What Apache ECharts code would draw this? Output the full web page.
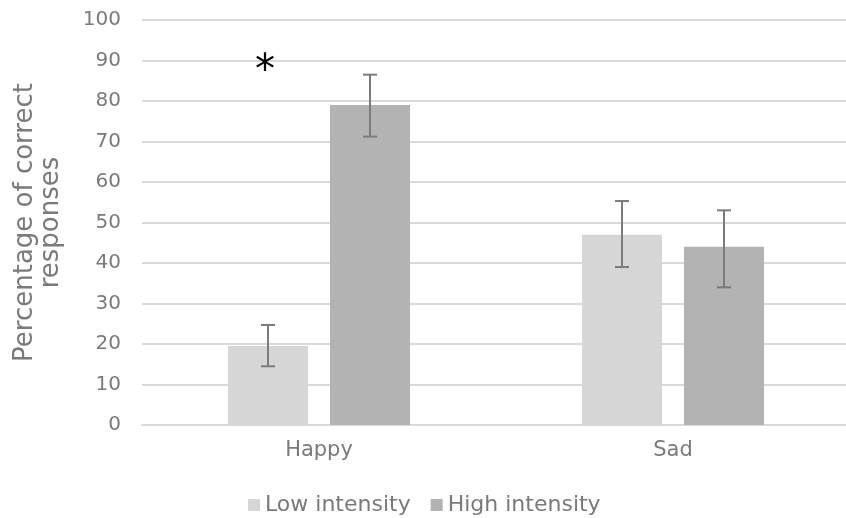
<!DOCTYPE html>
<html><head><meta charset="utf-8">
<script src="https://cdn.jsdelivr.net/npm/echarts@6/dist/echarts.min.js"></script>
<style>html,body{margin:0;padding:0;background:#fff}#c{width:846px;height:518px}</style>
</head><body><div id="c"></div>
<script>
const categories = ['Happy', 'Sad'];
const seriesNames = ['Low intensity', 'High intensity'];
const lowValues = [19.5, 47];
const highValues = [79, 44];
const lowErrLower = [14.5, 39];
const lowErrUpper = [24.7, 55.3];
const highErrLower = [71.2, 34];
const highErrUpper = [86.5, 53];
const lowAnnotations = ['*', ''];
const annotationLevel = 87;
const yTicks = [0, 10, 20, 30, 40, 50, 60, 70, 80, 90, 100];

const colors = ['#d6d6d6', '#b3b3b3'];
const barWidthPct = 0.226;
const barGapPct = 0.275;
const font = 'DejaVu Sans';
const textColor = '#7a7a7a';

function errSeries(idx, lows, highs, notes) {
  return {
    type: 'custom',
    name: seriesNames[idx] + ' err',
    z: 5,
    data: categories.map((c, i) => [i, lows[i], highs[i]]),
    renderItem: function (params, api) {
      const i = api.value(0);
      const band = api.size([1, 0])[0];
      const bw = band * barWidthPct;
      const gap = bw * barGapPct;
      const total = 2 * bw + gap;
      const off = -total / 2 + bw / 2 + idx * (bw + gap);
      const pLo = api.coord([i, api.value(1)]);
      const pHi = api.coord([i, api.value(2)]);
      const x = pLo[0] + off;
      const cap = 7;
      const st = { stroke: '#7b7b7b', lineWidth: 2 };
      const children = [
        { type: 'line', shape: { x1: x, y1: pLo[1], x2: x, y2: pHi[1] }, style: st },
        { type: 'line', shape: { x1: x - cap, y1: pLo[1], x2: x + cap, y2: pLo[1] }, style: st },
        { type: 'line', shape: { x1: x - cap, y1: pHi[1], x2: x + cap, y2: pHi[1] }, style: st }
      ];
      if (notes && notes[i]) {
        const pN = api.coord([i, annotationLevel]);
        children.push({ type: 'text', style: { text: notes[i], x: x - 3, y: pN[1], align: 'center', verticalAlign: 'middle', font: '40px ' + font, fill: '#000' } });
      }
      return { type: 'group', children: children };
    }
  };
}

const chart = echarts.init(document.getElementById('c'), null, { renderer: 'canvas' });
chart.setOption({
  backgroundColor: '#fff',
  animation: false,
  textStyle: { fontFamily: font },
  grid: { left: 142, right: -4, top: 20, bottom: 93, containLabel: false, outerBoundsMode: 'none' },
  legend: {
    data: seriesNames,
    bottom: -3,
    left: 243,
    icon: 'rect',
    itemWidth: 12,
    itemHeight: 12,
    itemGap: 20,
    textStyle: { fontSize: 22, color: textColor, fontFamily: font }
  },
  xAxis: {
    type: 'category',
    data: categories,
    axisTick: { show: false },
    axisLine: { lineStyle: { color: '#d9d9d9', width: 2 } },
    axisLabel: { fontSize: 21, color: textColor, margin: 15 }
  },
  yAxis: {
    type: 'value',
    min: yTicks[0],
    max: yTicks[yTicks.length - 1],
    interval: 10,
    name: 'Percentage of correct\nresponses',
    nameLocation: 'middle',
    nameGap: 78,
    nameTextStyle: { fontSize: 26, color: textColor, lineHeight: 26, fontFamily: font },
    axisLine: { show: false },
    axisTick: { show: false },
    axisLabel: { fontSize: 20, color: textColor, margin: 21 },
    splitLine: { lineStyle: { color: '#d9d9d9', width: 2 } }
  },
  series: [
    { type: 'bar', name: seriesNames[0], data: lowValues, itemStyle: { color: colors[0] }, barWidth: (barWidthPct * 100) + '%', barGap: (barGapPct * 100) + '%' },
    { type: 'bar', name: seriesNames[1], data: highValues, itemStyle: { color: colors[1] }, barWidth: (barWidthPct * 100) + '%', barGap: (barGapPct * 100) + '%' },
    errSeries(0, lowErrLower, lowErrUpper, lowAnnotations),
    errSeries(1, highErrLower, highErrUpper, null)
  ]
});
</script></body></html>
